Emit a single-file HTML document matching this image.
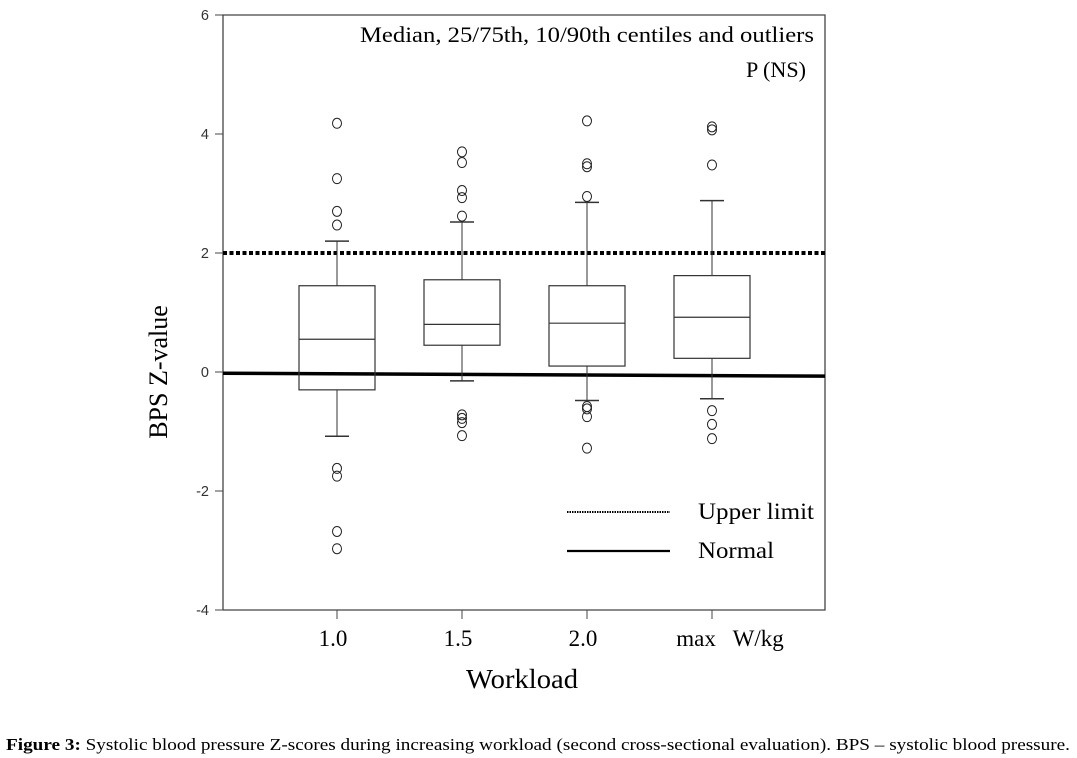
<!DOCTYPE html>
<html><head><meta charset="utf-8"><style>
body{margin:0;background:#fff;width:1077px;height:758px;overflow:hidden}
svg{display:block}
</style></head><body>
<svg width="1077" height="758" id="chart" font-family="Liberation Serif, serif">
<g id="g"></g>
</svg>
<script>
const categories=["1.0","1.5","2.0","max   W/kg"];
const q1=[-0.3,0.45,0.1,0.23];
const med=[0.55,0.8,0.82,0.92];
const q3=[1.45,1.55,1.45,1.62];
const whLo=[-1.08,-0.15,-0.48,-0.45];
const whHi=[2.2,2.52,2.85,2.88];
const outliers=[[4.18,3.25,2.7,2.47,-1.62,-1.75,-2.68,-2.97],[3.7,3.52,3.05,2.93,2.62,-0.72,-0.78,-0.85,-1.07],[4.22,3.5,3.45,2.95,-0.58,-0.62,-0.75,-1.28],[4.12,4.07,3.48,-0.65,-0.88,-1.12]];
const yTicks=[6,4,2,0,-2,-4];
const upperLimit=2;
const normalStart=-0.02, normalEnd=-0.07;

const L=223,R=825,T=15,B=610;
const y=v=>372-v*59.5;
const x=i=>337+i*125;
const g=document.getElementById('g');
const NS='http://www.w3.org/2000/svg';
function el(t,a,p){const e=document.createElementNS(NS,t);for(const k in a)e.setAttribute(k,a[k]);(p||g).appendChild(e);return e;}

let e;
e=el('polyline',{points:`${L},${B} ${L},${T} ${R},${T} ${R},${B} ${L},${B}`,fill:'none',stroke:'#444','stroke-width':1.3});


yTicks.forEach(v=>{
 let t=el('line',{x1:L-8,x2:L,y1:y(v),y2:y(v),stroke:'#444'});
 
 
 let l=el('text',{x:L-14,y:y(v)+5,'font-size':14.5,'text-anchor':'end','font-family':'Liberation Sans, sans-serif',fill:'#333'});
 l.textContent=v;
 
 
});
categories.forEach((c,i)=>{
 let t=el('line',{x1:x(i),x2:x(i),y1:B,y2:B+9,stroke:'#444'});
 
 
 let l=el('text',{x:i==3?x(i)+18:x(i)-4,y:B+36,'font-size':23,'text-anchor':'middle'});
 l.setAttribute('style','white-space:pre');
 l.textContent=c;
 
 
});
e=el('line',{x1:L,x2:R,y1:y(upperLimit),y2:y(upperLimit),stroke:'#000','stroke-width':4,'stroke-dasharray':'4 2.5'});


e=el('line',{x1:L,x2:R,y1:y(normalStart),y2:y(normalEnd),stroke:'#000','stroke-width':3.5});


categories.forEach((c,i)=>{
 const cx=x(i),hw=38;
 let w=el('line',{x1:cx,x2:cx,y1:y(q3[i]),y2:y(whHi[i]),stroke:'#333'});
 
 
 w=el('line',{x1:cx-12,x2:cx+12,y1:y(whHi[i]),y2:y(whHi[i]),stroke:'#333','stroke-width':1.5});
 
 
 w=el('line',{x1:cx,x2:cx,y1:y(q1[i]),y2:y(whLo[i]),stroke:'#333'});
 
 
 w=el('line',{x1:cx-12,x2:cx+12,y1:y(whLo[i]),y2:y(whLo[i]),stroke:'#333','stroke-width':1.5});
 
 
 let b=el('rect',{x:cx-hw,y:y(q3[i]),width:2*hw,height:y(q1[i])-y(q3[i]),fill:'none',stroke:'#333','stroke-width':1.2});
 
 
 let m=el('line',{x1:cx-hw,x2:cx+hw,y1:y(med[i]),y2:y(med[i]),stroke:'#333','stroke-width':1.2});
 
 
 outliers[i].forEach(v=>{
  let o=el('ellipse',{cx:cx,cy:y(v),rx:4.5,ry:5,fill:'none',stroke:'#222','stroke-width':1});
  
  
 });
});
e=el('line',{x1:567,x2:670,y1:512,y2:512,stroke:'#000','stroke-width':2,'stroke-dasharray':'1.5 1'});


e=el('text',{x:698,y:519,'font-size':23,textLength:116,lengthAdjust:'spacingAndGlyphs'});e.textContent='Upper limit';


e=el('line',{x1:567,x2:670,y1:551,y2:551,stroke:'#000','stroke-width':2.2});


e=el('text',{x:698,y:558,'font-size':23,textLength:76,lengthAdjust:'spacingAndGlyphs'});e.textContent='Normal';


e=el('text',{x:360,y:42,'font-size':22,textLength:454,lengthAdjust:'spacingAndGlyphs'});e.textContent='Median, 25/75th, 10/90th centiles and outliers';


e=el('text',{x:746,y:77,'font-size':22,textLength:60,lengthAdjust:'spacingAndGlyphs'});e.textContent='P (NS)';


e=el('text',{x:466,y:688,'font-size':27,textLength:112,lengthAdjust:'spacingAndGlyphs'});e.textContent='Workload';


e=el('text',{x:0,y:0,'font-size':26,'text-anchor':'middle',transform:'translate(167,372) rotate(-90)'});e.textContent='BPS Z-value';


e=el('text',{x:6,y:750,'font-size':17,textLength:1064,lengthAdjust:'spacingAndGlyphs'});
e.innerHTML='<tspan font-weight="bold">Figure 3:</tspan> Systolic blood pressure Z-scores during increasing workload (second cross-sectional evaluation). BPS – systolic blood pressure.';


</script>
</body></html>
